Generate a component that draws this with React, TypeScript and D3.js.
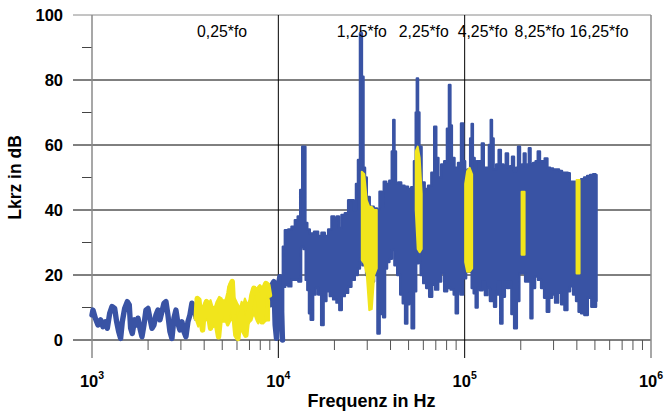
import React from 'react';
import * as d3 from 'd3';

// ---- data (frequency in Hz, level in dB) ----
// low-frequency trace (blue, yellow 0,25*fo section, blue)
const blueLowFreq = [1000,1012,1042,1077,1113,1145,1179,1208,1244,1280,1323,1356,1390,1424,1454,1497,1547,1585,1612,1645,1693,1728,1765,1809,1854,1900,1948,1997,2046,2098,2150,2204,2259,2315,2373,2433,2494,2555,2619,2685,2753,2821,2892,2964,3039,3114,3192,3272,3354,3438,3524,3625];
const blueLowLevel = [7.7,9.2,6.7,4.6,6.2,4.1,5.6,3.6,8.2,10.3,9.7,5.6,2.6,0.5,5.6,9.7,11.8,10.8,3.6,2,6.2,4.6,6.7,3.6,1,4.6,9.2,9.7,6.7,3.6,4.6,7.7,9.2,6.2,8.7,11.3,11.8,7.7,2.6,0.5,6.7,9.2,5.1,3.1,5.6,2.6,1,5.6,7.7,11.3,10.3,6.7];

const yellowLowFreq = [3625,3671,3748,3825,3922,4019,4120,4222,4329,4436,4548,4661,4779,4898,5020,5146,5274,5406,5541,5656,5773,5917,6065,6218,6373,6531,6694,6863,7035,7210,7390,7575,7765,7958,8157,8362,8570,8784,8966];
const yellowLowLevel = [6.7,12.8,12.3,6.7,3.1,10.3,11.8,7.7,3.6,8.7,9.7,4.6,1,7.7,11.8,10.8,6.7,9.7,16.9,18,7.7,1.5,0.5,6.7,8.7,2.6,1.5,7.7,9.7,13.8,15.9,15.4,13.8,9.7,5.6,15.9,17.4,16.9,13.8];
// envelope of the dense yellow section
const yellowEnvFreq = [3611,3715,3826,3924,4036,4121,4204,4329,4437,4509,4663,4815,4960,5058,5231,5316,5381,5495,5612,5724,5847,6015,6218,6350,6476,6614,6803,7035,7183,7327,7482,7641,7793,7958,8126,8289,8461,8644,8817,8926];
const yellowEnvMax = [11.8,11.3,11.3,9.2,11.8,12.3,10.8,12.3,10.2,9.2,11.8,13.3,12.8,11.3,12.8,14.5,16.4,17.4,17.9,12.3,12.8,11.3,9.7,11.8,10.8,12.8,11,12.3,13.8,15.9,16.4,15.4,16.4,16.9,16.4,15.9,17.4,14.9,13.3,12];
const yellowEnvMin = [6.2,4.1,5.6,5,6,6.1,6.7,5.6,4.5,4,5.6,6.6,5.6,5.6,5.6,4.5,4.5,5.6,6.6,5.6,4,3.3,4,5.1,5.6,6.1,4.5,5.6,6.1,7.7,7.5,6,5.1,6.1,6.5,5.1,5.6,6,6,6];

const blueMidFreq = [8966,9078,9231,9461,9616,9777,9938,10188,10356,10529];
const blueMidLevel = [13.8,10.8,16.9,18,4.6,0.5,15.9,19.5,9.7,0];

// dense part: upper and lower envelope of the trace
const upperFreq = [10532,10609,11066,11527,12008,12522,12882,13319,13536,13788,14166,14449,15066,16025,16692,17387,18134,18888,19674,20265,20926,21370,22258,23213,24180,25003,25722,26466,27027,27808,28397,28927,29471,30197,31722,33333,34378,35446,36336,37239,38650,40119,41114,41628,42403,43198,44831,46503,48676,50699,52609,54268,54945,55762,56666,57719,59760,62319,64912,67610,69651,71208,73435,76207,79068,81550,83080,84626,86203,90247,94002,97184,99356,101837,105682,108340,109674,111731,114551,117412,121837,125336,127990,132820,136990,139029,141292,144817,150286,154023,158866,163841,168570,173213,177535,181506,186506,191161,195477,200845,205336,209694,214960,218959,223036,228652,237239,243220,250214,257111,263533,274157,282039,292688,303722,315188,327076,339419,352228,363278,370034,388807,413654,429278,445488,462291,479746,497855,510418];
const upperLevel = [0.5,28.7,33.8,34,34.9,36.9,38,46.2,59.5,59.5,36,34,32.8,33.3,32,33,32,34,38,37.5,38,34.5,38.5,39,43,43,40,48,55.4,94.4,81,53,50,44,41,40.5,40,45.6,41,48.7,48,49,58,67.7,58,48.2,48.5,47.5,47.2,46.5,47,55,70,80.5,70,59.5,48.5,46.5,47.5,51.5,65.6,56,50,54,55,65,78.5,66,56,53,54.5,66.6,55,52,52.5,62,66.5,56,52.3,55,55,60.5,53,53,60,67.7,62,52.5,54,58.5,54,53,57.4,53,53.5,56.4,52,53,59.5,53,54,57.4,53.5,54,59,54,54.5,55,58,55,55,55.9,53,52.8,52.5,52.5,52,51.5,51.5,51.3,48.7,48.7,48.7,49.5,50,50.5,50.8,51,50.8];

const lowerFreq = [10532,10703,11105,11527,11963,12566,13041,13470,13871,14166,14449,14755,15066,15696,16025,16692,17258,17757,18493,19281,20088,20926,21554,22258,23213,24180,25188,26268,27129,27707,28862,30322,31853,33472,34600,35383,36042,36947,37848,38815,40119,41266,42658,44259,45935,47098,48676,49774,51016,52801,54268,55621,57362,58810,61032,63280,65715,68193,70781,73435,76207,79068,82063,86203,88400,90620,93424,96337,99977,103753,107669,110407,113135,115982,118850,122884,126470,130427,134527,138761,142217,145390,149390,153109,157312,161870,166924,171097,175371,180853,187670,193559,199637,207194,215019,223036,227824,234396,243220,252396,261938,271861,279717,289212,300140,311364,323118,335292,350982,361108,374702,388807,403500,413654,429278,448250,467966,488660,504108,510418];
const lowerLevel = [0,16.4,17,16.5,18.5,18.5,18,28.7,28,18.5,15.4,8.2,6.2,14,16,14,4.6,12,15,13.5,12.5,11.5,9.2,13.5,14.5,16.4,18.5,20,22,25,23,20,18,20,2,8,11.3,7,22,24,25,27.7,23,20,14,11.3,5.1,11,14.5,3.6,15,23.6,26.5,20,17.5,16,13.3,17,15.5,18,20.5,15,16,15.5,14,8.2,15,14,19,21,21,16,14.4,10,16,15.3,18,13.8,16,12,15,10.2,14,18,5.1,13.3,18,16,18,8,3.6,12,20.5,20.5,18,18,6.7,16,19.5,18.5,16,13,8.7,13,14,11.5,14.5,11,9.2,15,16.5,14,12,8.7,8.2,7.7,13,10.2,10.2,12];

// yellow: harmonic bands
const yellowBandFreq = [[28053,28927,29836,30761,31722,32722,33746],[54619,55976,57362,58810],[100600,103110,106370,109674],[202100,209694],[398600,413654]];
const yellowBandMin = [[24.6,23.6,20,9.2,9.5,20,22],[40,28,27,28],[24,21,21,22],[26.2,26.2],[20.5,20.5]];
const yellowBandMax = [[51.8,51,43,41,41,40,40],[58,59.5,56,45],[48,52,53,51],[45.6,45.6],[49.2,49.2]];

const annoText = ['0,25*fo','1,25*fo','2,25*fo','4,25*fo','8,25*fo','16,25*fo'];
const annoFreq = [3660,20600,44270,91730,185400,365600];

const yMajor = [0,20,40,60,80,100];
const yMinor = [10,30,50,70,90];
const xDecades = [1e3,1e4,1e5,1e6];
const xExponents = ['3','4','5','6'];
const minorMult = [2,3,4,5,6,7,8,9];

const W = 664, H = 414;
const PL = 92, PR = 651, PT = 15, PB = 340;
const BLUE = '#3953a4';
const YELLOW = '#f1e51c';
const FONT = 'Liberation Sans, Arial, sans-serif';

type P = [number, number];
type R = [number, number, number];

export default function App() {
  const x = d3.scaleLog().domain([1e3, 1e6]).range([PL, PR]);
  const y = d3.scaleLinear().domain([0, 100]).range([PB, PT]);
  const zip = (f: number[], v: number[]) => f.map((d, i) => [d, v[i]] as P);
  const linLine = d3.line<P>().x(d => x(d[0])).y(d => y(d[1]));
  const stepLine = d3.line<P>().x(d => x(d[0])).y(d => y(d[1])).curve(d3.curveStep);
  const bandPoly = [...zip(upperFreq, upperLevel), ...zip(lowerFreq, lowerLevel).reverse()];
  const areaLin = d3.area<R>().x(d => x(d[0])).y0(d => y(d[1])).y1(d => y(d[2]));
  const minors: number[] = [];
  [1e3, 1e4, 1e5].forEach(dec => minorMult.forEach(m => minors.push(dec * m)));
  const yEnv = yellowEnvFreq.map((f, i) => [f, yellowEnvMin[i], yellowEnvMax[i]] as R);
  const traceProps = { fill: 'none', strokeWidth: 5.4, strokeLinejoin: 'round' as const, strokeLinecap: 'round' as const };

  return (
    <svg width={W} height={H} style={{ position: 'absolute', left: 0, top: 0 }} fontFamily={FONT}>
      <rect width={W} height={H} fill="#fff" />
      {yMajor.map(v => (
        <line key={'h' + v} x1={73} x2={PR} y1={y(v)} y2={y(v)}
          stroke={v === 100 ? '#8a8a8a' : '#000'} strokeWidth={1} />
      ))}
      {yMinor.map(v => (
        <line key={'hm' + v} x1={82} x2={PL} y1={y(v)} y2={y(v)} stroke="#444" strokeWidth={1} />
      ))}
      {xDecades.map((d, i) => (
        <line key={'v' + d} x1={x(d)} x2={x(d)} y1={PT} y2={358}
          stroke={i === 0 || i === 3 ? '#8a8a8a' : '#000'} strokeWidth={i === 0 || i === 3 ? 1.5 : 1} />
      ))}
      {minors.map(d => (
        <line key={'vm' + d} x1={x(d)} x2={x(d)} y1={PB} y2={350} stroke="#555" strokeWidth={1} />
      ))}

      <path d={linLine(zip(blueLowFreq, blueLowLevel)) || ''} stroke={BLUE} {...traceProps} />
      <path d={linLine(zip(blueMidFreq, blueMidLevel)) || ''} stroke={BLUE} {...traceProps} />
      <path d={(stepLine(bandPoly) || '') + 'Z'} fill={BLUE} stroke={BLUE} strokeWidth={2.4} strokeLinejoin="round" />
      <path d={areaLin(yEnv) || ''} fill={YELLOW} stroke={YELLOW} strokeWidth={2} strokeLinejoin="round" />
      <path d={linLine(zip(yellowLowFreq, yellowLowLevel)) || ''} stroke={YELLOW} {...traceProps} />
      {yellowBandFreq.map((fs, i) => {
        const pts = fs.map((f, j) => [f, yellowBandMin[i][j], yellowBandMax[i][j]] as R);
        return <path key={'yb' + i} d={areaLin(pts) || ''} fill={YELLOW} stroke={YELLOW}
          strokeWidth={2} strokeLinejoin="round" />;
      })}

      {yMajor.map(v => (
        <text key={'yl' + v} x={63} y={y(v) + 6} textAnchor="end" fontWeight="bold" fontSize={16.5} fill="#000">{v}</text>
      ))}
      {xDecades.map((d, i) => (
        <text key={'xl' + d} x={x(d)} y={387} textAnchor="middle" fontWeight="bold" fontSize={16.5} fill="#000">
          10<tspan fontSize={10.5} dy={-8}>{xExponents[i]}</tspan>
        </text>
      ))}
      {annoText.map((t, i) => (
        <text key={'a' + i} x={x(annoFreq[i])} y={36.5} fontSize={15.8} fill="#000">{t}</text>
      ))}
      <text x={(PL + PR) / 2} y={407} textAnchor="middle" fontWeight="bold" fontSize={18} fill="#000">Frequenz in Hz</text>
      <text transform={`translate(21,${(PT + PB) / 2}) rotate(-90)`} textAnchor="middle" fontWeight="bold" fontSize={17.5} fill="#000">Lkrz in dB</text>
    </svg>
  );
}
